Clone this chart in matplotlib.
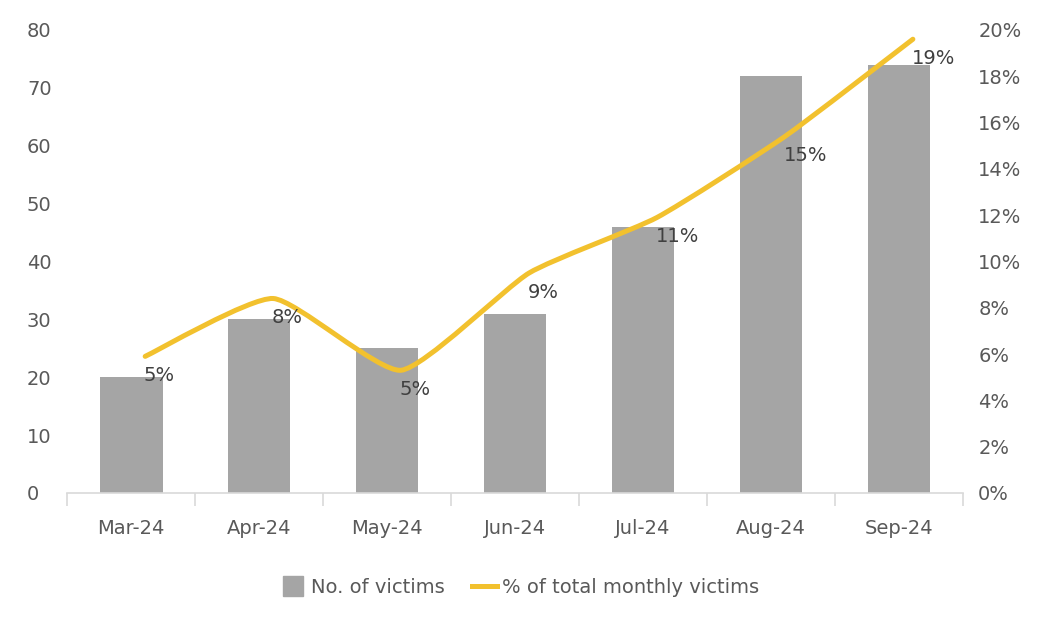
import numpy as np
import matplotlib
matplotlib.use('Agg')
import matplotlib.pyplot as plt
from matplotlib.path import Path
from matplotlib.patches import PathPatch
from matplotlib.lines import Line2D
from matplotlib.transforms import ScaledTranslation
from matplotlib.ticker import FuncFormatter, MultipleLocator

plt.rcParams["font.family"] = ["DejaVu Sans"]

# 데이터
months = ["Mar-24", "Apr-24", "May-24", "Jun-24", "Jul-24", "Aug-24", "Sep-24"]
victims = [20, 30, 25, 31, 46, 72, 74]
share_pct = [5.9, 8.4, 5.3, 9.5, 11.9, 15.4, 19.6]
share_labels = ["5%", "8%", "5%", "9%", "11%", "15%", "19%"]

BAR_COLOR = "#A5A5A5"
LINE_COLOR = "#F2C12E"
TEXT_COLOR = "#595959"
FS = 14


def smooth_path(xs, ys, k=0.09):
    """약하게 둥근 꺾은선 (베지어)."""
    pts = np.column_stack([np.asarray(xs, float), np.asarray(ys, float)])
    n = len(pts)
    verts = [pts[0]]
    codes = [Path.MOVETO]
    for i in range(n - 1):
        p0 = pts[i - 1] if i > 0 else pts[i]
        p1 = pts[i]
        p2 = pts[i + 1]
        p3 = pts[i + 2] if i + 2 < n else pts[i + 1]
        verts += [p1 + (p2 - p0) * k, p2 - (p3 - p1) * k, p2]
        codes += [Path.CURVE4] * 3
    return Path(verts, codes)


fig = plt.figure(figsize=(10.5, 6.24), dpi=100)
ax = fig.add_axes([0.064, 0.210, 0.853, 0.742])
ax2 = ax.twinx()

x = np.arange(len(months))
ax.bar(x, victims, width=0.49, color=BAR_COLOR, zorder=2)

ax.set_xlim(-0.5, len(months) - 0.5)
ax.set_ylim(0, 80)
ax.yaxis.set_major_locator(MultipleLocator(10))
ax2.set_ylim(0, 20)
ax2.yaxis.set_major_locator(MultipleLocator(2))
ax2.yaxis.set_major_formatter(FuncFormatter(lambda v, _: f"{v:.0f}%"))

# 선은 막대 중심보다 약간 오른쪽에 그려짐 (원본과 동일)
shift = ax2.transData + ScaledTranslation(14 / 100, 0, fig.dpi_scale_trans)
patch = PathPatch(smooth_path(x, share_pct), facecolor="none",
                  edgecolor=LINE_COLOR, linewidth=3.6, capstyle="round",
                  joinstyle="round", zorder=3, transform=shift)
ax2.add_patch(patch)

for xi, yi, lab in zip(x, share_pct, share_labels):
    ax2.annotate(lab, (xi, yi), xycoords=shift, xytext=(-1, -14),
                 textcoords="offset points", ha="left", va="center",
                 fontsize=FS, color="#404040", zorder=4)

for a in (ax, ax2):
    for s in ("top", "left", "right", "bottom"):
        a.spines[s].set_visible(False)
    a.tick_params(axis="y", length=0, labelsize=FS, labelcolor=TEXT_COLOR)
ax2.spines["bottom"].set_visible(True)
ax2.spines["bottom"].set_color("#D9D9D9")
ax2.spines["bottom"].set_linewidth(1.2)

ax.tick_params(axis="y", pad=29)
for t in ax.get_yticklabels():
    t.set_horizontalalignment("left")
ax2.tick_params(axis="y", pad=11)

ax.set_xticks(x)
ax.set_xticklabels(months)
ax.set_xticks(np.arange(-0.5, len(months), 1.0), minor=True)
ax.tick_params(axis="x", which="major", length=0, labelsize=FS,
               labelcolor=TEXT_COLOR, pad=19)
ax.tick_params(axis="x", which="minor", length=9, color="#D9D9D9", width=1.2)

handles = [Line2D([0], [0], marker="s", markersize=14, color=BAR_COLOR,
                  linestyle="none"),
           Line2D([0], [0], color=LINE_COLOR, linewidth=3.6)]
fig.legend(handles, ["No. of victims", "% of total monthly victims"],
           loc="center", bbox_to_anchor=(0.495, 0.059), ncol=2, frameon=False,
           fontsize=FS, labelcolor=TEXT_COLOR, handlelength=1.3,
           handletextpad=0.25, columnspacing=1.4)

fig.savefig("out.png", dpi=100, facecolor="white")
